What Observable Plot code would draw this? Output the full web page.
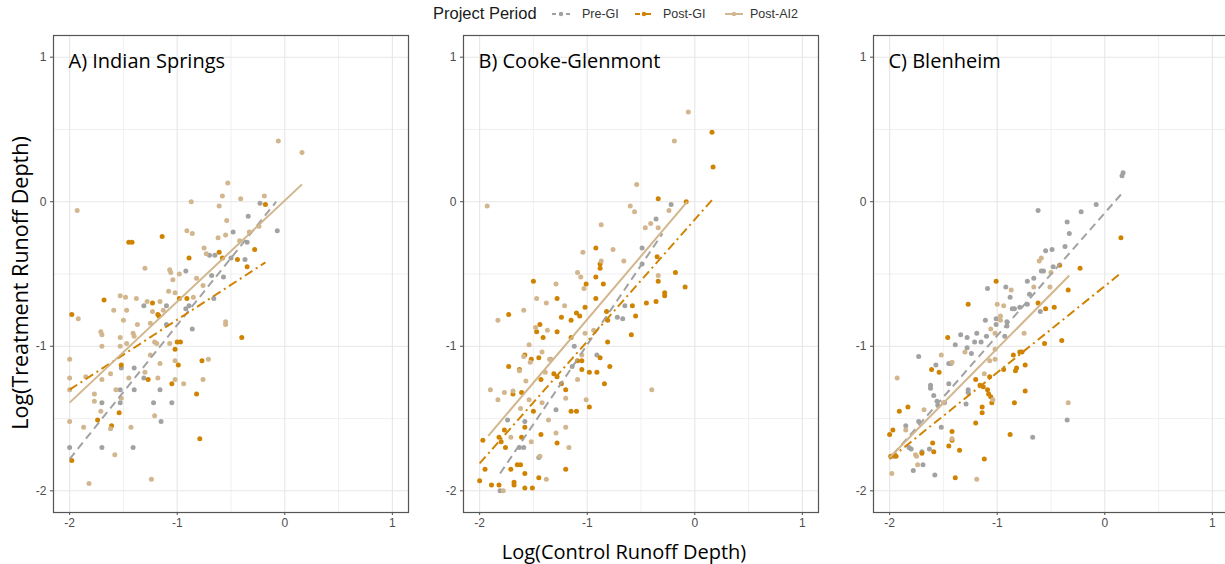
<!DOCTYPE html>
<html><head><meta charset="utf-8">
<script src="https://cdn.jsdelivr.net/npm/d3@7"></script>
<script src="https://cdn.jsdelivr.net/npm/@observablehq/plot@0.6"></script>
<style>
body{margin:0;background:#fff;overflow:hidden;}
#wrap{position:relative;width:1225px;height:564px;overflow:hidden;background:#fff;}
.panel{position:absolute;top:0;width:410px;height:540px;}
.panel svg{max-width:none !important;}
.lg{position:absolute;font-family:"Liberation Sans",Arial,sans-serif;white-space:nowrap;}
.ttl{position:absolute;font-family:"Open Sans",sans-serif;color:#000;white-space:nowrap;}
</style></head><body><div id="wrap"></div>
<script>
const periods = ["Pre-GI", "Post-GI", "Post-AI2"];
const colors = ["#A2A2A2", "#D08300", "#D2B68E"];
const dashes = ["8,5", "9,4,2,4", null];
const sites = ["A) Indian Springs", "B) Cooke-Glenmont", "C) Blenheim"];
const majorTicks = [-2, -1, 0, 1];
const minorTicks = [-1.5, -0.5, 0.5];
const xTitle = "Log(Control Runoff Depth)";
const yTitle = "Log(Treatment Runoff Depth)";
const legendTitle = "Project Period";

// Panel A: Indian Springs
const preA = [[-0.23,-0.01],[-0.34,-0.10],[-0.07,-0.20],[-0.48,-0.21],[-0.35,-0.28],[-0.50,-0.39],[-0.37,-0.40],[-0.70,-0.37],[-0.65,-0.37],[-0.92,-0.48],[-0.68,-0.51],[-0.57,-0.52],[-0.66,-0.67],[-1.31,-0.72],[-1.10,-0.72],[-0.89,-0.72],[-0.92,-0.74],[-1.10,-0.85],[-0.86,-0.88],[-1.52,-1.15],[-1.40,-1.15],[-1.31,-1.22],[-1.53,-1.30],[-1.40,-1.30],[-1.16,-1.30],[-1.70,-1.39],[-1.53,-1.39],[-1.22,-1.39],[-1.05,-1.39],[-1.15,-1.52],[-2.0,-1.70],[-1.70,-1.70],[-1.41,-1.70]];
const postA = [[-0.18,-0.02],[-1.14,-0.24],[-1.45,-0.28],[-1.42,-0.28],[-0.89,-0.39],[-0.61,-0.35],[-0.58,-0.39],[-0.28,-0.33],[-0.44,-0.40],[-0.35,-0.45],[-1.68,-0.68],[-1.23,-0.70],[-1.18,-0.78],[-1.17,-0.79],[-0.98,-0.67],[-0.91,-0.67],[-1.98,-0.78],[-1.00,-0.97],[-0.97,-0.97],[-1.02,-1.02],[-0.40,-0.94],[-1.52,-1.13],[-0.99,-1.13],[-0.77,-1.10],[-1.27,-1.23],[-1.05,-1.26],[-0.82,-1.33],[-1.54,-1.46],[-1.74,-1.51],[-1.61,-1.55],[-0.79,-1.64],[-1.98,-1.79]];
const ai2A = [[0.16,0.34],[-0.06,0.42],[-1.93,-0.06],[-0.53,0.13],[-0.58,0.04],[-0.41,0.02],[-0.19,0.04],[-0.87,0.0],[-0.61,-0.03],[-0.54,-0.13],[-0.91,-0.20],[-0.86,-0.22],[-0.55,-0.23],[-0.62,-0.25],[-0.42,-0.27],[-0.33,-0.21],[-0.24,-0.17],[-0.75,-0.32],[-0.73,-0.36],[-1.30,-0.46],[-1.07,-0.47],[-1.06,-0.49],[-0.98,-0.50],[-1.04,-0.54],[-0.82,-0.53],[-0.76,-0.58],[-1.08,-0.62],[-1.02,-0.63],[-1.53,-0.65],[-1.48,-0.66],[-1.38,-0.67],[-1.28,-0.69],[-1.16,-0.69],[-0.85,-0.66],[-1.59,-0.75],[-1.47,-0.75],[-1.23,-0.76],[-1.13,-0.75],[-1.92,-0.81],[-1.50,-0.82],[-1.37,-0.85],[-1.25,-0.84],[-1.71,-0.90],[-1.70,-0.92],[-1.53,-0.94],[-1.41,-0.91],[-1.40,-0.93],[-1.21,-0.97],[-1.19,-0.98],[-1.07,-0.98],[-0.55,-0.83],[-0.55,-0.85],[-1.70,-1.00],[-1.53,-1.00],[-1.47,-0.98],[-2.0,-1.09],[-1.25,-1.06],[-1.16,-1.12],[-1.02,-1.10],[-0.71,-1.09],[-2.0,-1.22],[-1.85,-1.21],[-1.70,-1.23],[-1.62,-1.19],[-1.45,-1.22],[-1.30,-1.18],[-1.18,-1.22],[-1.02,-1.23],[-0.94,-1.26],[-0.76,-1.23],[-2.0,-1.30],[-1.77,-1.33],[-1.77,-1.38],[-1.57,-1.30],[-1.52,-1.36],[-2.0,-1.52],[-1.87,-1.56],[-1.71,-1.45],[-1.62,-1.57],[-1.43,-1.56],[-1.21,-1.48],[-1.58,-1.75],[-1.82,-1.95],[-1.24,-1.92]];
const fitPreA = [[-2.0,-1.78],[-0.08,0.0]];
const fitPostA = [[-2.0,-1.30],[-0.18,-0.42]];
const fitAi2A = [[-2.0,-1.39],[0.16,0.12]];

// Panel B: Cooke-Glenmont
const preB = [[-0.22,-0.02],[-0.36,-0.12],[-0.49,-0.32],[-0.49,-0.43],[-0.65,-0.72],[-0.72,-0.80],[-0.67,-0.81],[-1.12,-1.0],[-0.91,-1.06],[-1.14,-1.14],[-1.34,-1.09],[-1.29,-1.44],[-1.74,-1.51],[-1.58,-1.52],[-1.63,-1.70],[-1.59,-1.70],[-1.45,-1.77],[-1.81,-2.0]];
const postB = [[0.16,0.48],[0.17,0.24],[-0.34,0.02],[-0.08,0.0],[-0.92,-0.32],[-0.88,-0.43],[-0.88,-0.46],[-0.35,-0.38],[-0.92,-0.52],[-0.85,-0.57],[-1.01,-0.57],[-0.34,-0.55],[-0.18,-0.49],[-0.09,-0.59],[-0.28,-0.63],[-0.28,-0.65],[-0.45,-0.70],[-0.36,-0.69],[-0.58,-0.72],[-1.50,-0.55],[-1.28,-0.67],[-0.92,-0.67],[-1.73,-0.78],[-1.24,-0.80],[-1.10,-0.77],[-1.07,-0.79],[-1.02,-0.73],[-1.15,-0.82],[-1.44,-0.85],[-1.47,-0.90],[-1.41,-0.94],[-1.28,-0.90],[-1.15,-0.94],[-0.82,-0.76],[-0.81,-0.82],[-0.55,-0.79],[-0.59,-0.92],[-0.81,-0.97],[-1.58,-1.06],[-1.52,-1.09],[-1.45,-1.08],[-1.73,-1.14],[-1.63,-1.16],[-1.43,-1.23],[-1.31,-1.19],[-1.28,-1.21],[-1.24,-1.26],[-1.20,-1.30],[-1.09,-1.10],[-1.05,-1.10],[-1.05,-1.16],[-0.98,-1.18],[-0.91,-1.18],[-0.88,-1.08],[-0.79,-1.14],[-0.84,-1.26],[-1.61,-1.32],[-1.69,-1.33],[-1.15,-1.45],[-1.10,-1.45],[-0.98,-1.42],[-1.50,-1.45],[-1.58,-1.56],[-1.77,-1.58],[-1.97,-1.65],[-1.82,-1.63],[-1.80,-1.66],[-1.76,-1.70],[-1.61,-1.63],[-1.43,-1.61],[-1.28,-1.67],[-1.20,-1.85],[-1.95,-1.85],[-2.0,-1.93],[-1.89,-1.96],[-1.82,-1.96],[-1.71,-1.85],[-1.65,-1.82],[-1.62,-1.82],[-1.68,-1.94],[-1.68,-1.96],[-1.58,-1.88],[-1.58,-1.98],[-1.51,-1.98],[-1.45,-1.91]];
const ai2B = [[-0.06,0.62],[-0.19,0.42],[-1.93,-0.03],[-0.54,0.12],[-0.60,-0.03],[-0.56,-0.07],[-0.87,-0.16],[-0.41,-0.15],[-0.46,-0.18],[-0.34,-0.18],[-0.24,-0.06],[-1.04,-0.35],[-0.76,-0.33],[-0.87,-0.41],[-0.66,-0.41],[-1.09,-0.49],[-1.06,-0.52],[-0.34,-0.51],[-1.29,-0.57],[-1.03,-0.60],[-1.47,-0.67],[-1.38,-0.70],[-1.21,-0.72],[-1.59,-0.75],[-1.83,-0.82],[-1.48,-0.87],[-1.37,-0.89],[-1.02,-0.91],[-1.54,-0.99],[-0.94,-0.89],[-1.05,-1.06],[-1.42,-1.04],[-1.59,-1.07],[-1.53,-1.11],[-1.35,-1.09],[-1.63,-1.17],[-1.39,-1.18],[-1.09,-1.23],[-1.57,-1.24],[-1.90,-1.30],[-1.77,-1.32],[-1.69,-1.31],[-1.83,-1.37],[-0.40,-1.30],[-1.54,-1.37],[-1.20,-1.36],[-1.62,-1.43],[-1.42,-1.39],[-1.01,-1.37],[-1.36,-1.51],[-1.71,-1.63],[-1.52,-1.66],[-1.29,-1.60],[-1.20,-1.56],[-1.17,-1.70],[-1.44,-1.76],[-1.38,-1.92],[-1.78,-2.0]];
const fitPreB = [[-1.81,-1.88],[-0.30,-0.22]];
const fitPostB = [[-2.0,-1.81],[0.17,0.02]];
const fitAi2B = [[-1.92,-1.62],[-0.07,0.0]];

// Panel C: Blenheim
const preC = [[0.17,0.20],[0.16,0.18],[-0.62,-0.06],[-0.08,-0.02],[-0.22,-0.07],[-0.35,-0.14],[-0.33,-0.22],[-0.37,-0.31],[-0.55,-0.34],[-0.49,-0.33],[-0.59,-0.48],[-0.57,-0.48],[-0.48,-0.45],[-0.72,-0.55],[-0.66,-0.53],[-1.09,-0.60],[-0.92,-0.59],[-0.88,-0.66],[-0.86,-0.74],[-0.84,-0.74],[-0.70,-0.64],[-0.72,-0.71],[-0.60,-0.76],[-1.11,-0.82],[-1.01,-0.81],[-1.01,-0.85],[-0.91,-0.83],[-0.91,-0.86],[-1.34,-0.92],[-1.28,-0.94],[-1.19,-0.91],[-1.10,-0.93],[-1.39,-0.99],[-1.28,-1.01],[-1.21,-0.97],[-1.15,-0.97],[-1.24,-1.05],[-0.93,-0.93],[-1.73,-1.07],[-1.57,-1.13],[-1.45,-1.12],[-1.43,-1.12],[-1.62,-1.27],[-1.62,-1.29],[-1.59,-1.34],[-1.56,-1.38],[-1.55,-1.41],[-1.45,-1.26],[-1.27,-1.30],[-1.27,-1.32],[-1.49,-1.39],[-1.29,-1.40],[-1.73,-1.52],[-1.85,-1.55],[-1.52,-1.56],[-1.82,-1.70],[-1.80,-1.71],[-1.70,-1.73],[-1.63,-1.71],[-1.78,-1.86],[-1.69,-1.82],[-1.58,-1.89],[-1.96,-1.76],[-0.67,-1.63],[-0.35,-1.51],[-0.79,-0.73]];
const postC = [[0.15,-0.25],[-0.23,-0.46],[-0.42,-0.44],[-0.34,-0.61],[-0.62,-0.70],[-0.55,-0.74],[-0.47,-0.73],[-1.01,-0.55],[-1.27,-0.71],[-0.40,-0.96],[-0.56,-0.98],[-0.85,-1.06],[-0.79,-1.04],[-0.77,-1.04],[-0.82,-1.15],[-0.83,-1.17],[-0.74,-1.13],[-0.94,-1.16],[-1.07,-1.21],[-1.20,-1.23],[-1.16,-1.27],[-1.13,-1.28],[-1.09,-1.30],[-1.08,-1.33],[-1.06,-1.35],[-1.05,-1.39],[-0.74,-1.31],[-0.84,-1.39],[-1.46,-0.94],[-1.61,-1.16],[-1.54,-1.18],[-1.91,-1.45],[-1.83,-1.42],[-2.0,-1.61],[-1.97,-1.58],[-1.14,-1.42],[-1.14,-1.46],[-1.20,-1.53],[-1.42,-1.59],[-1.42,-1.65],[-1.45,-1.69],[-1.35,-1.72],[-1.60,-1.67],[-1.59,-1.73],[-1.70,-1.74],[-1.94,-1.76],[-1.99,-1.76],[-0.88,-1.61],[-1.12,-1.78],[-1.39,-1.91]];
const ai2C = [[-0.59,-0.39],[-0.61,-0.41],[-0.50,-0.49],[-0.51,-0.59],[-0.66,-0.59],[-0.87,-0.61],[-1.0,-0.71],[-0.94,-0.72],[-0.97,-0.79],[-0.97,-0.82],[-1.06,-0.88],[-1.02,-0.91],[-0.75,-0.91],[-1.30,-1.04],[-1.52,-1.06],[-1.42,-1.11],[-1.07,-1.10],[-1.02,-1.09],[-1.12,-1.19],[-1.02,-1.02],[-1.93,-1.22],[-1.68,-1.44],[-1.50,-1.39],[-1.04,-1.37],[-1.42,-1.64],[-1.76,-1.75],[-1.75,-1.76],[-1.85,-1.58],[-1.74,-1.82],[-1.98,-1.88],[-1.19,-1.92],[-0.34,-1.39]];
const fitPreC = [[-1.97,-1.75],[0.15,0.05]];
const fitPostC = [[-2.0,-1.78],[0.14,-0.50]];
const fitAi2C = [[-2.0,-1.77],[-0.33,-0.51]];

const panels = [
  {site: sites[0], pts: [preA, postA, ai2A], fits: [fitPreA, fitPostA, fitAi2A]},
  {site: sites[1], pts: [preB, postB, ai2B], fits: [fitPreB, fitPostB, fitAi2B]},
  {site: sites[2], pts: [preC, postC, ai2C], fits: [fitPreC, fitPostC, fitAi2C]}
];

const wrap = document.getElementById("wrap");
const fmt = d => String(d);

panels.forEach((p, i) => {
  const rows = [];
  p.pts.forEach((arr, k) => arr.forEach(d => rows.push({x: d[0], y: d[1], period: periods[k]})));
  const fitMarks = p.fits.map((f, k) => Plot.line(f, {
    x: d => d[0], y: d => d[1], stroke: colors[k], strokeWidth: 2,
    strokeDasharray: dashes[k] || undefined, strokeLinecap: "butt"
  }));
  const chart = Plot.plot({
    width: 410, height: 540,
    marginLeft: 53, marginRight: 2, marginTop: 35, marginBottom: 28,
    style: {fontFamily: "'Liberation Sans', Arial, sans-serif", fontSize: "12px", color: "#4d4d4d", background: "transparent", maxWidth: "none"},
    x: {domain: [-2.15, 1.15], ticks: majorTicks, tickFormat: fmt, tickSize: 3, tickPadding: 3, label: null},
    y: {domain: [-2.15, 1.15], ticks: majorTicks, tickFormat: fmt, tickSize: 3, tickPadding: 4, label: null},
    color: {domain: periods, range: colors},
    marks: [
      Plot.gridX(minorTicks, {stroke: "#ececec", strokeOpacity: 1, strokeWidth: 0.8}),
      Plot.gridY(minorTicks, {stroke: "#ececec", strokeOpacity: 1, strokeWidth: 0.8}),
      Plot.gridX(majorTicks, {stroke: "#e6e6e6", strokeOpacity: 1, strokeWidth: 1.1}),
      Plot.gridY(majorTicks, {stroke: "#e6e6e6", strokeOpacity: 1, strokeWidth: 1.1}),
      Plot.dot(rows, {x: "x", y: "y", fill: "period", r: 2.5, stroke: "none"}),
      ...fitMarks,
      Plot.frame({stroke: "#555", strokeWidth: 1.2}),
      Plot.text([p.site], {frameAnchor: "top-left", dx: 15, dy: 18, lineAnchor: "top", textAnchor: "start",
        fontSize: 20, fill: "#000", fontFamily: "'Open Sans', sans-serif"})
    ]
  });
  const div = document.createElement("div");
  div.className = "panel";
  div.style.left = (i * 410) + "px";
  div.appendChild(chart);
  wrap.appendChild(div);
});

// axis titles
const xt = document.createElement("div");
xt.className = "ttl"; xt.textContent = xTitle;
xt.style.cssText += "font-size:20px;left:624px;top:551px;transform:translate(-50%,-50%);";
wrap.appendChild(xt);
const yt = document.createElement("div");
yt.className = "ttl"; yt.textContent = yTitle;
yt.style.cssText += "font-size:21.5px;left:19px;top:283px;transform:translate(-50%,-50%) rotate(-90deg);";
wrap.appendChild(yt);

// legend
const lt = document.createElement("div");
lt.className = "lg"; lt.textContent = legendTitle;
lt.style.cssText += "font-size:16.5px;color:#1a1a1a;left:433px;top:4px;";
wrap.appendChild(lt);
const keyX = [552, 635, 725];
const labX = [582, 663, 750];
periods.forEach((name, k) => {
  const ns = "http://www.w3.org/2000/svg";
  const svg = document.createElementNS(ns, "svg");
  svg.setAttribute("width", 18); svg.setAttribute("height", 10);
  svg.style.cssText = "position:absolute;left:" + keyX[k] + "px;top:9px;";
  const ln = document.createElementNS(ns, "line");
  ln.setAttribute("x1", 0); ln.setAttribute("x2", 18); ln.setAttribute("y1", 5); ln.setAttribute("y2", 5);
  ln.setAttribute("stroke", colors[k]); ln.setAttribute("stroke-width", 2);
  if (dashes[k]) ln.setAttribute("stroke-dasharray", k === 0 ? "4,3" : "5,2,2,2");
  svg.appendChild(ln);
  const c = document.createElementNS(ns, "circle");
  c.setAttribute("cx", 9); c.setAttribute("cy", 5); c.setAttribute("r", 2.2); c.setAttribute("fill", colors[k]);
  svg.appendChild(c);
  wrap.appendChild(svg);
  const lb = document.createElement("div");
  lb.className = "lg"; lb.textContent = name;
  lb.style.cssText += "font-size:12.5px;color:#333;left:" + labX[k] + "px;top:7px;";
  wrap.appendChild(lb);
});
</script></body></html>
